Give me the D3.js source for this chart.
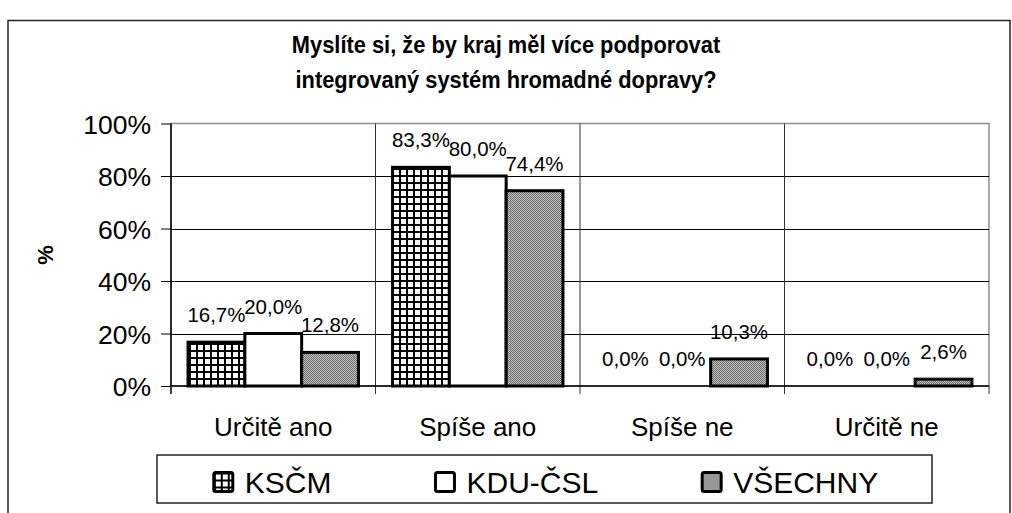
<!DOCTYPE html>
<html><head><meta charset="utf-8">
<script src="https://cdn.jsdelivr.net/npm/d3@7"></script>
<style>
html,body{margin:0;padding:0;background:#fff;}
svg{display:block;font-family:"Liberation Sans",Arial,sans-serif;}
</style></head>
<body>
<svg id="c" width="1012" height="513"></svg>
<script>
const categories = ["Určitě ano", "Spíše ano", "Spíše ne", "Určitě ne"];
const seriesNames = ["KSČM", "KDU-ČSL", "VŠECHNY"];
const ksc = [16.7, 83.3, 0.0, 0.0];
const kdu = [20.0, 80.0, 0.0, 0.0];
const vse = [12.8, 74.4, 10.3, 2.6];
const yTicks = [0, 20, 40, 60, 80, 100];
const titleLines = ["Myslíte si, že by kraj měl více podporovat", "integrovaný systém hromadné dopravy?"];
const yTitle = "%";

const seriesValues = [ksc, kdu, vse];
const svg = d3.select("#c");

// defs / patterns
const defs = svg.append("defs");
const pg = defs.append("pattern").attr("id","grid").attr("patternUnits","userSpaceOnUse")
  .attr("width",7).attr("height",7);
pg.append("rect").attr("width",7).attr("height",7).attr("fill","#fff");
pg.append("rect").attr("x",0).attr("y",0).attr("width",7).attr("height",2).attr("fill","#000");
pg.append("rect").attr("x",0).attr("y",0).attr("width",2).attr("height",7).attr("fill","#000");
const pd = defs.append("pattern").attr("id","dots").attr("patternUnits","userSpaceOnUse")
  .attr("width",2).attr("height",2);
pd.append("rect").attr("width",2).attr("height",2).attr("fill","#c4c4c4");
pd.append("rect").attr("width",1).attr("height",1).attr("fill","#6a6a6a");
pd.append("rect").attr("x",1).attr("y",1).attr("width",1).attr("height",1).attr("fill","#6a6a6a");
const fills = ["url(#grid)", "#fff", "url(#dots)"];

// outer frame
svg.append("rect").attr("x",8).attr("y",20.5).attr("width",1002).attr("height",520)
  .attr("fill","none").attr("stroke","#222").attr("stroke-width",1.5);

// title (slightly condensed bold)
const tg = svg.append("g").attr("transform","translate(506,0) scale(0.91,1)");
tg.append("text").attr("x",0).attr("y",53).attr("text-anchor","middle")
  .attr("font-weight","bold").attr("font-size",24)
  .selectAll("tspan").data(titleLines).join("tspan")
  .attr("x",0).attr("dy",(d,i)=> i===0?0:35).text(d=>d);

const L = 171, R = 989, T = 123.5, B = 386;
const x = d3.scaleBand().domain(categories).range([L, R]).paddingInner(0).paddingOuter(0);
const y = d3.scaleLinear().domain([0,100]).range([B, T]);
const bw = 56.8;
const xs = d3.scaleBand().domain(d3.range(seriesNames.length))
  .range([0, x.bandwidth()]).paddingInner(0).paddingOuter((x.bandwidth()-3*bw)/(2*bw));

// plot area border (gray)
svg.append("rect").attr("x",L).attr("y",T).attr("width",R-L).attr("height",B-T)
  .attr("fill","none").attr("stroke","#8c8c8c").attr("stroke-width",1.5);

// gridlines
svg.append("g").selectAll("line").data(yTicks.filter(t=>t>0 && t<100)).join("line")
  .attr("x1",L).attr("x2",R).attr("y1",d=>Math.round(y(d))+0.5).attr("y2",d=>Math.round(y(d))+0.5)
  .attr("stroke","#000").attr("stroke-width",1);

// category dividers
const dividers = categories.slice(1).map(c=>x(c));
svg.append("g").selectAll("line").data(dividers).join("line")
  .attr("x1",d=>d).attr("x2",d=>d).attr("y1",T).attr("y2",B+8)
  .attr("stroke","#333").attr("stroke-width",1);

// y axis
const yAxis = d3.axisLeft(y).tickValues(yTicks).tickFormat(d=>d+"%").tickSize(10).tickPadding(10);
const gy = svg.append("g").attr("transform",`translate(${L},0)`).call(yAxis);
gy.select(".domain").remove();
gy.selectAll("line").attr("stroke","#000");
gy.selectAll("text").attr("font-size",26.5).attr("fill","#000").attr("font-family","Liberation Sans, Arial, sans-serif").attr("dy","0.36em");
svg.append("line").attr("x1",L).attr("x2",L).attr("y1",T).attr("y2",B+8).attr("stroke","#000").attr("stroke-width",1.5);

// x axis
const xAxis = d3.axisBottom(x).tickSize(0).tickPadding(0);
const gx = svg.append("g").attr("transform",`translate(0,${B})`).call(xAxis);
gx.select(".domain").remove();
gx.selectAll("text").attr("font-size",26).attr("fill","#000").attr("font-family","Liberation Sans, Arial, sans-serif")
  .attr("dy",0).attr("y",50);
svg.append("line").attr("x1",R).attr("x2",R).attr("y1",B).attr("y2",B+8).attr("stroke","#333").attr("stroke-width",1);

// y title
svg.append("text").attr("transform","translate(53,255) rotate(-90)").attr("text-anchor","middle")
  .attr("font-weight","bold").attr("font-size",22).text(yTitle);

// bars
const data = [];
categories.forEach((c,ci)=> seriesValues.forEach((vals,si)=> data.push({c, si, v: vals[ci]})));
const fmt = v => d3.format(".1f")(v).replace(".", ",") + "%";
svg.append("g").selectAll("rect").data(data.filter(d=>d.v>0)).join("rect")
  .attr("x",d=>x(d.c)+xs(d.si)).attr("width",xs.bandwidth())
  .attr("y",d=>y(d.v)).attr("height",d=>B-y(d.v))
  .attr("fill",d=>fills[d.si]).attr("stroke","#000").attr("stroke-width",3).attr("stroke-linejoin","miter");
svg.append("line").attr("x1",L).attr("x2",R).attr("y1",B).attr("y2",B).attr("stroke","#000").attr("stroke-width",1.5);

svg.append("g").selectAll("text").data(data).join("text")
  .attr("x",d=>x(d.c)+xs(d.si)+xs.bandwidth()/2).attr("y",d=>y(d.v)-20)
  .attr("text-anchor","middle").attr("font-size",20.5).attr("fill","#000").text(d=>fmt(d.v));

// legend
const lg = svg.append("g");
lg.append("rect").attr("x",157).attr("y",455).attr("width",775).attr("height",48)
  .attr("fill","#fff").attr("stroke","#222").attr("stroke-width",1.5);
const items = lg.selectAll("g.item").data(seriesNames).join("g").attr("class","item");
items.append("rect").attr("width",19).attr("height",19).attr("rx",2)
  .attr("fill",(d,i)=>fills[i]).attr("stroke","#000").attr("stroke-width",3);
items.append("text").attr("x",31).attr("y",20).attr("font-size",30).attr("fill","#000").text(d=>d);
const widths = items.nodes().map(n=>n.getBBox().width);
const gap = 104;
const total = d3.sum(widths) + gap*(widths.length-1);
let cx = (157+932)/2 - total/2;
items.each(function(d,i){ d3.select(this).attr("transform",`translate(${cx+1.5},${472.5})`); cx += widths[i]+gap; });
</script>
</body></html>
